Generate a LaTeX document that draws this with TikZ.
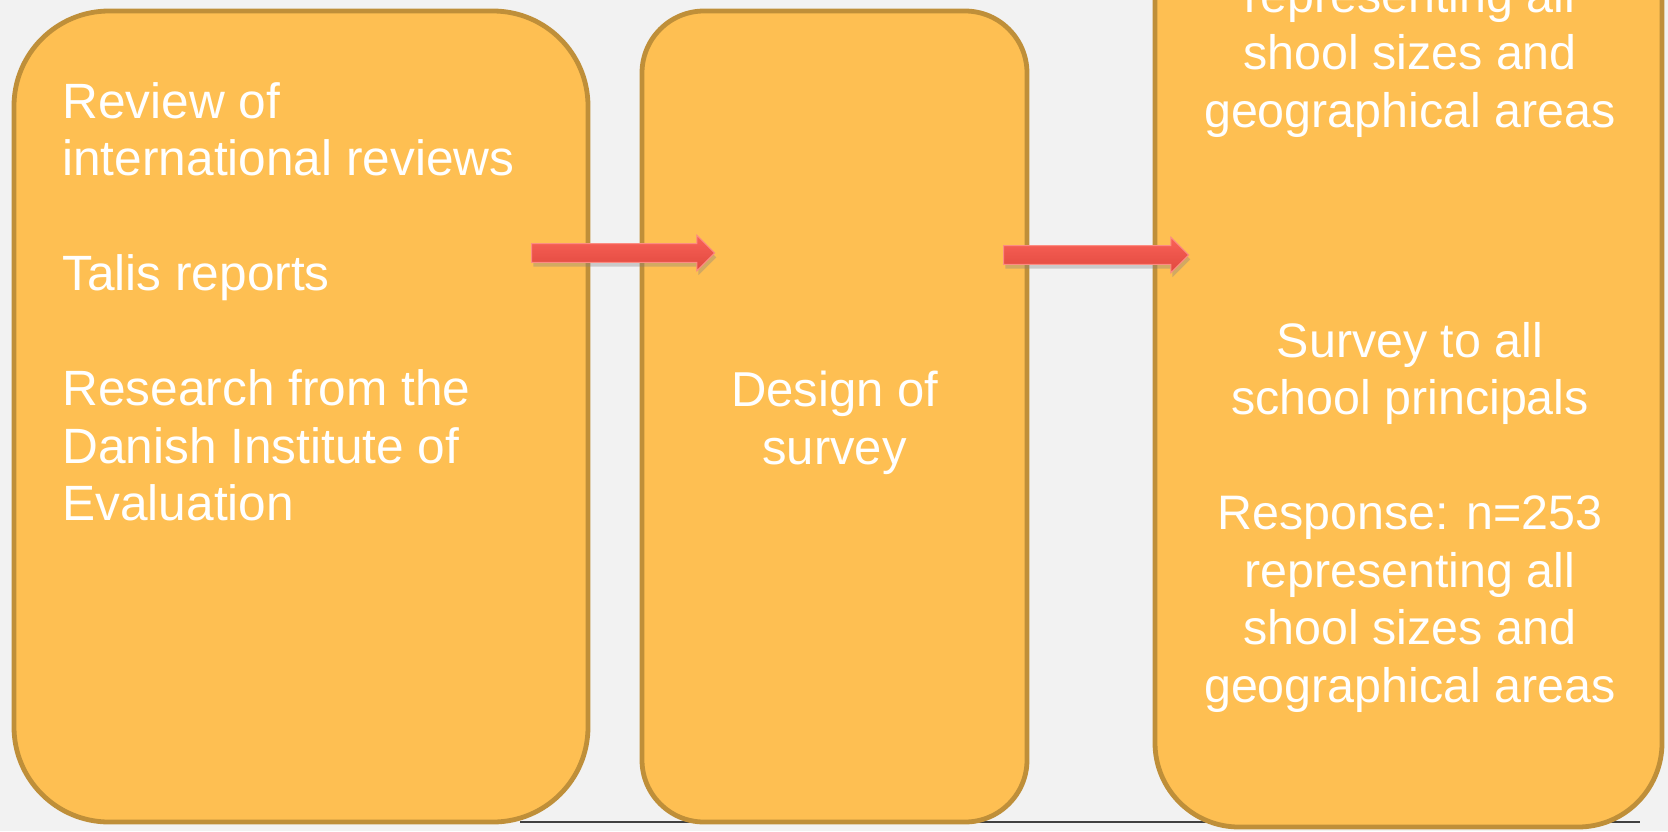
\documentclass[tikz,border=0pt]{standalone}
\usepackage{fontspec}
\setmainfont{Liberation Sans}
\usetikzlibrary{shapes.arrows,shadows}
\definecolor{bggray}{RGB}{242,242,242}
\definecolor{boxfill}{RGB}{254,191,82}
\definecolor{boxline}{RGB}{191,143,57}
\definecolor{arrowtop}{RGB}{250,98,88}
\definecolor{arrowbot}{RGB}{224,72,62}
\definecolor{arrowline}{RGB}{252,140,130}
\definecolor{floorgray}{RGB}{64,64,64}
\tikzset{
  stagebox/.style={draw=boxline, fill=boxfill, line width=2.4pt, inner sep=0pt},
  stagetext/.style={text=white, inner sep=0pt, font=\fontsize{24.5}{28.75}\selectfont},
  blockarrow/.style={single arrow, draw=arrowline, line width=0.5pt,
    top color=arrowtop, bottom color=arrowbot,
    single arrow head extend=4.25pt, single arrow tip angle=90,
    single arrow head indent=0pt, inner xsep=0pt, inner ysep=4.4pt,
    text height=0pt, text depth=0pt,
    drop shadow={shadow xshift=0.8pt, shadow yshift=-2.2pt, opacity=0.35}},
  floorline/.style={draw=floorgray, line width=0.75pt}
}
\begin{document}
\begin{tikzpicture}[x=0.5pt,y=-0.5pt]
   % background
   \fill[bggray] (0,0) rectangle (1668,831);
   \useasboundingbox (0,0) rectangle (1668,831);
   \clip (0,0) rectangle (1668,831);
   \coordinate (floorL) at (520,822);
   \coordinate (floorR) at (1640,822);
   \draw[floorline] (floorL) -- (floorR);
   % stages
   \node[stagebox, minimum width=287pt, minimum height=405.5pt, rounded corners=47.5pt] (lit) at (301,416.5) {};
   \node[stagebox, minimum width=192.5pt, minimum height=405.5pt, rounded corners=31pt] (design) at (834.5,416.5) {};
   \node[stagebox, minimum width=253.5pt, minimum height=463.5pt, rounded corners=42pt] (survey) at (1408.5,363.5) {};
   % texts
   \node[stagetext, font=\fontsize{24.8}{28.75}\selectfont, align=left, anchor=north west] (littext) at (62,82)
     {Review of\\international reviews\\[28.75pt]Talis reports\\[28.75pt]Research from the\\Danish Institute of\\Evaluation};
   \node[stagetext, align=center, anchor=north] (designtext) at (834.5,371) {Design of\\survey};
   \node[stagetext, font=\fontsize{24.2}{28.75}\selectfont, align=center, anchor=north] (surveytext) at (1410,-23)
     {representing all\\shool sizes and\\geographical areas\\[86.25pt]Survey to all\\school principals\\[28.75pt]Response: n=253\\representing all\\shool sizes and\\geographical areas};
   % arrows
   \node[blockarrow, minimum height=91.5pt] (arr1) at (618.5,253) {};
   \node[blockarrow, minimum height=92.5pt] (arr2) at (1091.5,255) {};
\end{tikzpicture}
\end{document}
